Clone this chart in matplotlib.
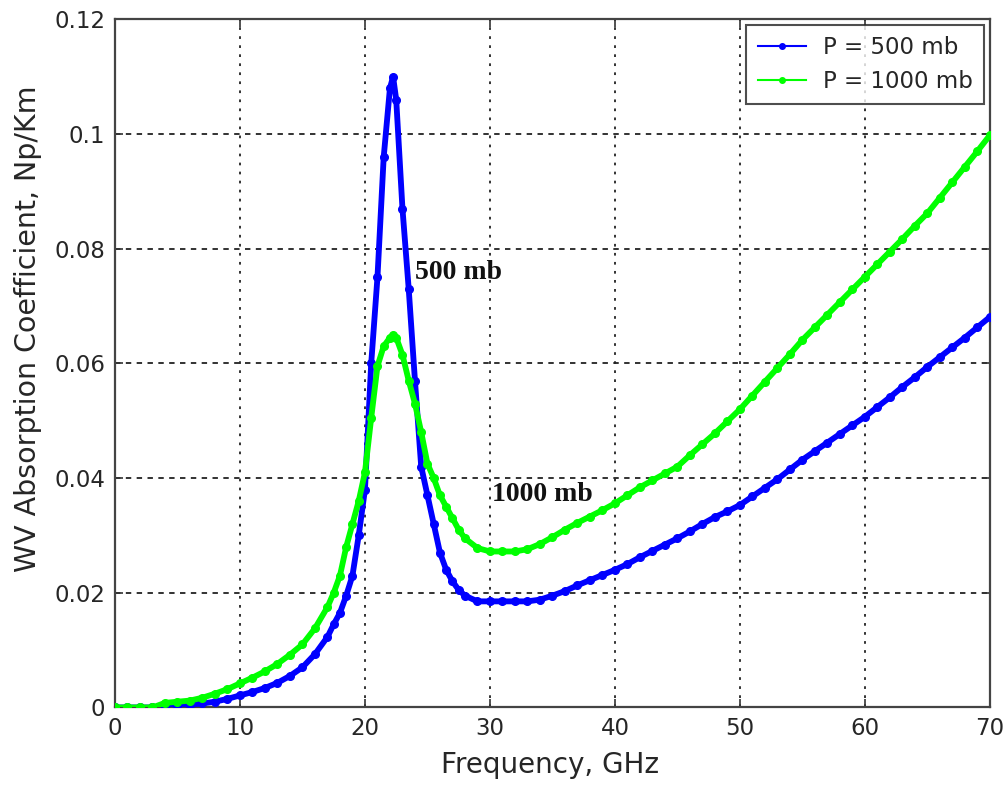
import matplotlib
matplotlib.use("Agg")
import matplotlib.pyplot as plt
from matplotlib.lines import Line2D

# ---- data ----
freq_ghz = [0, 1, 2, 3, 4, 5, 6, 7, 8, 9, 10, 11, 12, 13, 14, 15, 16, 17,
            17.5, 18, 18.5, 19, 19.5, 20, 20.5, 21, 21.5, 22, 22.25, 22.5, 23,
            23.5, 24, 24.5, 25, 25.5, 26, 26.5, 27, 27.5, 28,
            29, 30, 31, 32, 33, 34, 35, 36, 37, 38, 39, 40, 41, 42, 43, 44, 45,
            46, 47, 48, 49, 50, 51, 52, 53, 54, 55, 56, 57, 58, 59, 60, 61, 62,
            63, 64, 65, 66, 67, 68, 69, 70]

alpha_500mb = [0, 0, 0, 0, 0, 0.0002, 0.0005, 0.0007, 0.0010, 0.0015, 0.0021,
               0.0027, 0.0034, 0.0043, 0.0055, 0.0070, 0.0093, 0.0123,
               0.0145, 0.0165, 0.0195, 0.0230, 0.0300, 0.0380, 0.0600, 0.0750,
               0.0960, 0.1080, 0.1100, 0.1060, 0.0870,
               0.0730, 0.0570, 0.0420, 0.0370, 0.0320, 0.0270, 0.0240, 0.0220,
               0.0205, 0.0195,
               0.0185, 0.0185, 0.0185, 0.0185, 0.0185, 0.0188, 0.0195, 0.0203,
               0.0213, 0.0222, 0.0231, 0.0240, 0.0250, 0.0262, 0.0273, 0.0284,
               0.0295, 0.0307, 0.0320, 0.0332, 0.0342, 0.0353, 0.0368, 0.0383,
               0.0398, 0.0415, 0.0432, 0.0447, 0.0462, 0.0477, 0.0492, 0.0507,
               0.0524, 0.0541, 0.0559, 0.0576, 0.0594, 0.0611, 0.0628, 0.0645,
               0.0663, 0.0681]

alpha_1000mb = [0, 0, 0, 0, 0.0008, 0.0010, 0.0012, 0.0017, 0.0024, 0.0032,
                0.0042, 0.0052, 0.0063, 0.0076, 0.0092, 0.0110, 0.0138, 0.0175,
                0.0200, 0.0230, 0.0280, 0.0320, 0.0360, 0.0410, 0.0505, 0.0595,
                0.0630, 0.0645, 0.0650, 0.0645, 0.0615,
                0.0570, 0.0530, 0.0480, 0.0425, 0.0400, 0.0370, 0.0350, 0.0330,
                0.0310, 0.0295,
                0.0278, 0.0272, 0.0272, 0.0272, 0.0276, 0.0285, 0.0297, 0.0310,
                0.0322, 0.0333, 0.0344, 0.0356, 0.0370, 0.0384, 0.0396, 0.0408,
                0.0420, 0.0440, 0.0459, 0.0478, 0.0499, 0.0520, 0.0544, 0.0568,
                0.0592, 0.0616, 0.0641, 0.0663, 0.0685, 0.0707, 0.0729, 0.0751,
                0.0773, 0.0795, 0.0817, 0.0840, 0.0862, 0.0889, 0.0916, 0.0943,
                0.0970, 0.0998]

series_labels = ["P = 500 mb", "P = 1000 mb"]
x_ticks = [0, 10, 20, 30, 40, 50, 60, 70]
y_ticks = [0, 0.02, 0.04, 0.06, 0.08, 0.1, 0.12]
y_tick_labels = ["0", "0.02", "0.04", "0.06", "0.08", "0.1", "0.12"]

BLUE = "#0000ff"
GREEN = "#00ff00"
TXT = "#262626"

fig = plt.figure(figsize=(10.05, 7.88), dpi=100)
ax = fig.add_axes([0.1144, 0.1022, 0.8706, 0.8733])

ax.plot(freq_ghz, alpha_500mb, color=BLUE, lw=4.2, marker="o", ms=5.5,
        mec=BLUE, mfc=BLUE, solid_joinstyle="round", zorder=3)
ax.plot(freq_ghz, alpha_1000mb, color=GREEN, lw=4.2, marker="o", ms=5.5,
        mec=GREEN, mfc=GREEN, solid_joinstyle="round", zorder=4)

ax.set_xlim(0, 70)
ax.set_ylim(0, 0.12)
ax.set_xticks(x_ticks)
ax.set_yticks(y_ticks)
ax.set_yticklabels(y_tick_labels)

for t in ax.get_xticks():
    if 0 < t < 70:
        ax.axvline(t, color="#222222", lw=1.3, ls=(0, (1.5, 3.5)), zorder=1)
for t in ax.get_yticks():
    if 0 < t < 0.12:
        ax.axhline(t, color="#222222", lw=1.3, ls=(0, (3, 3)), zorder=1)

ax.tick_params(direction="in", length=6, width=1.2, top=True, right=True,
               labelsize=16.5, colors="#333333", labelcolor=TXT, pad=7)
for s in ax.spines.values():
    s.set_color("#444444")
    s.set_linewidth(1.6)

ax.set_xlabel("Frequency, GHz", fontsize=20, color=TXT)
ax.set_ylabel("WV Absorption Coefficient, Np/Km", fontsize=20.5, color=TXT)
ax.xaxis.set_label_coords(0.497, -0.063)
ax.yaxis.set_label_coords(-0.083, 0.55)

ax.text(24.0, 0.0758, "500 mb", fontsize=20, fontweight="bold",
        family="Liberation Serif", va="center", ha="left", color="#111111",
        zorder=5)
ax.text(30.2, 0.0371, "1000 mb", fontsize=20, fontweight="bold",
        family="Liberation Serif", va="center", ha="left", color="#111111",
        zorder=5)

handles = [Line2D([], [], color=BLUE, lw=1.5, marker="o", ms=4),
           Line2D([], [], color=GREEN, lw=1.5, marker="o", ms=4)]
leg = ax.legend(handles, series_labels, loc="upper right", fontsize=16.5,
                frameon=True, fancybox=False, edgecolor="#222222",
                borderaxespad=0.25, handlelength=2.1, handletextpad=0.75,
                borderpad=0.5, labelspacing=0.45, labelcolor=TXT)
leg.get_frame().set_linewidth(1.5)
leg.set_zorder(10)

fig.savefig("out.png", dpi=100, facecolor="white")
